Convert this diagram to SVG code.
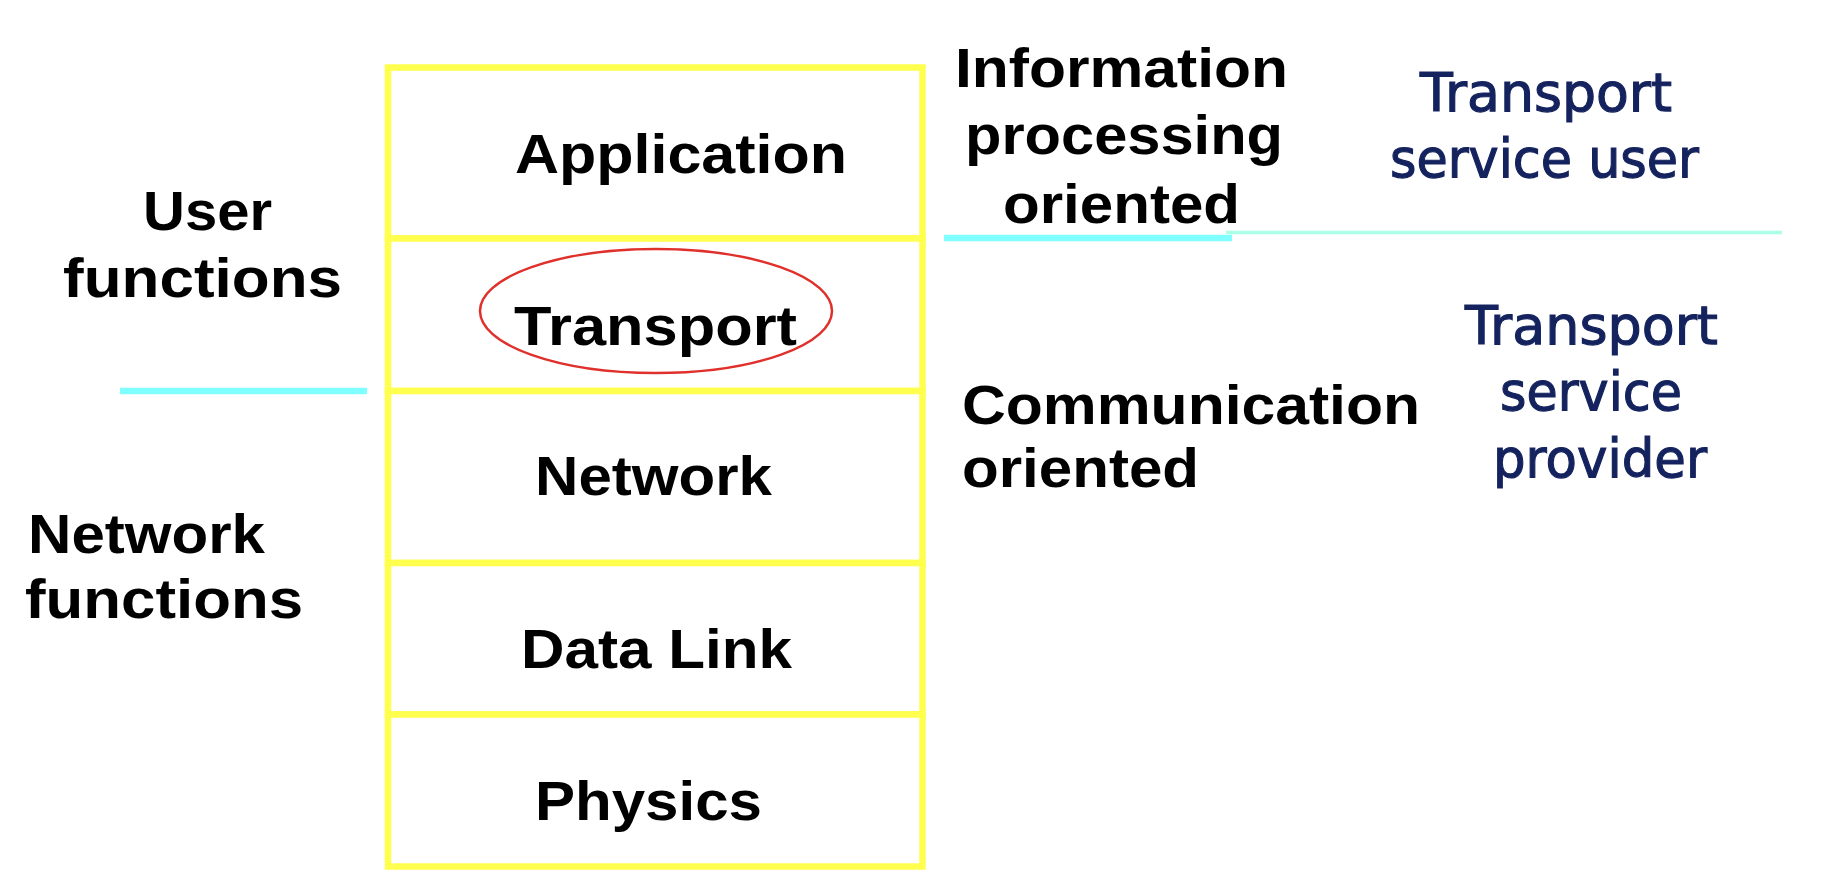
<svg xmlns="http://www.w3.org/2000/svg" width="1824" height="872" viewBox="0 0 1824 872">
  <style>
    .layer { fill: #ffffff; stroke: #ffff4d; stroke-width: 6.5; }
    .lt { font-family: "Liberation Sans", Arial, sans-serif; font-weight: bold; font-size: 56px; fill: #000000; }
    .side { font-family: "Liberation Sans", Arial, sans-serif; font-weight: bold; font-size: 55px; fill: #000000; }
    .svc { font-family: "Comic Sans MS", "DejaVu Sans", sans-serif; font-size: 54px; fill: #14235e; stroke: #14235e; stroke-width: 1.2; }
    .sep { stroke: #7fffff; stroke-width: 6.5; fill: none; }
    .sep2 { stroke: #aaffe6; stroke-width: 3.5; fill: none; }
  </style>
  <rect width="1824" height="872" fill="#ffffff"/>

  <g id="layer-application">
    <rect class="layer" x="388" y="67.5" width="534.5" height="171"/>
    <text class="lt" x="515" y="173" textLength="332" lengthAdjust="spacingAndGlyphs">Application</text>
  </g>
  <g id="layer-transport">
    <rect class="layer" x="388" y="238.5" width="534.5" height="152.5"/>
    <ellipse cx="656" cy="311" rx="176" ry="62" fill="none" stroke="#e0302c" stroke-width="2.5"/>
    <text class="lt" x="514" y="345" textLength="283" lengthAdjust="spacingAndGlyphs">Transport</text>
  </g>
  <g id="layer-network">
    <rect class="layer" x="388" y="391" width="534.5" height="172"/>
    <text class="lt" x="535" y="495" textLength="237" lengthAdjust="spacingAndGlyphs">Network</text>
  </g>
  <g id="layer-datalink">
    <rect class="layer" x="388" y="563" width="534.5" height="151.5"/>
    <text class="lt" x="521" y="668" textLength="271" lengthAdjust="spacingAndGlyphs">Data Link</text>
  </g>
  <g id="layer-physics">
    <rect class="layer" x="388" y="714.5" width="534.5" height="152"/>
    <text class="lt" x="535" y="820" textLength="227" lengthAdjust="spacingAndGlyphs">Physics</text>
  </g>

  <g id="label-user-functions">
    <text class="side" x="143" y="230" textLength="129" lengthAdjust="spacingAndGlyphs">User</text>
    <text class="side" x="63" y="297" textLength="279" lengthAdjust="spacingAndGlyphs">functions</text>
  </g>
  <g id="label-network-functions">
    <text class="side" x="28" y="553" textLength="237" lengthAdjust="spacingAndGlyphs">Network</text>
    <text class="side" x="25" y="618" textLength="278" lengthAdjust="spacingAndGlyphs">functions</text>
  </g>
  <g id="label-information">
    <text class="side" x="955" y="87" textLength="333" lengthAdjust="spacingAndGlyphs">Information</text>
    <text class="side" x="965" y="154" textLength="318" lengthAdjust="spacingAndGlyphs">processing</text>
    <text class="side" x="1003" y="223" textLength="237" lengthAdjust="spacingAndGlyphs">oriented</text>
  </g>
  <g id="label-communication">
    <text class="side" x="962" y="424" textLength="458" lengthAdjust="spacingAndGlyphs">Communication</text>
    <text class="side" x="962" y="487" textLength="237" lengthAdjust="spacingAndGlyphs">oriented</text>
  </g>
  <g id="label-service-user">
    <text class="svc" x="1420" y="111" textLength="252" lengthAdjust="spacingAndGlyphs">Transport</text>
    <text class="svc" x="1390" y="177" textLength="309" lengthAdjust="spacingAndGlyphs">service user</text>
  </g>
  <g id="label-service-provider">
    <text class="svc" x="1465" y="344" textLength="253" lengthAdjust="spacingAndGlyphs">Transport</text>
    <text class="svc" x="1500" y="410" textLength="182" lengthAdjust="spacingAndGlyphs">service</text>
    <text class="svc" x="1493" y="477" textLength="214" lengthAdjust="spacingAndGlyphs">provider</text>
  </g>

  <g id="connectors">
    <line class="sep" x1="120" y1="391" x2="367" y2="391"/>
    <line class="sep" x1="944" y1="238" x2="1232" y2="238"/>
    <line class="sep2" x1="1226" y1="232.5" x2="1782" y2="232.5"/>
  </g>
</svg>
